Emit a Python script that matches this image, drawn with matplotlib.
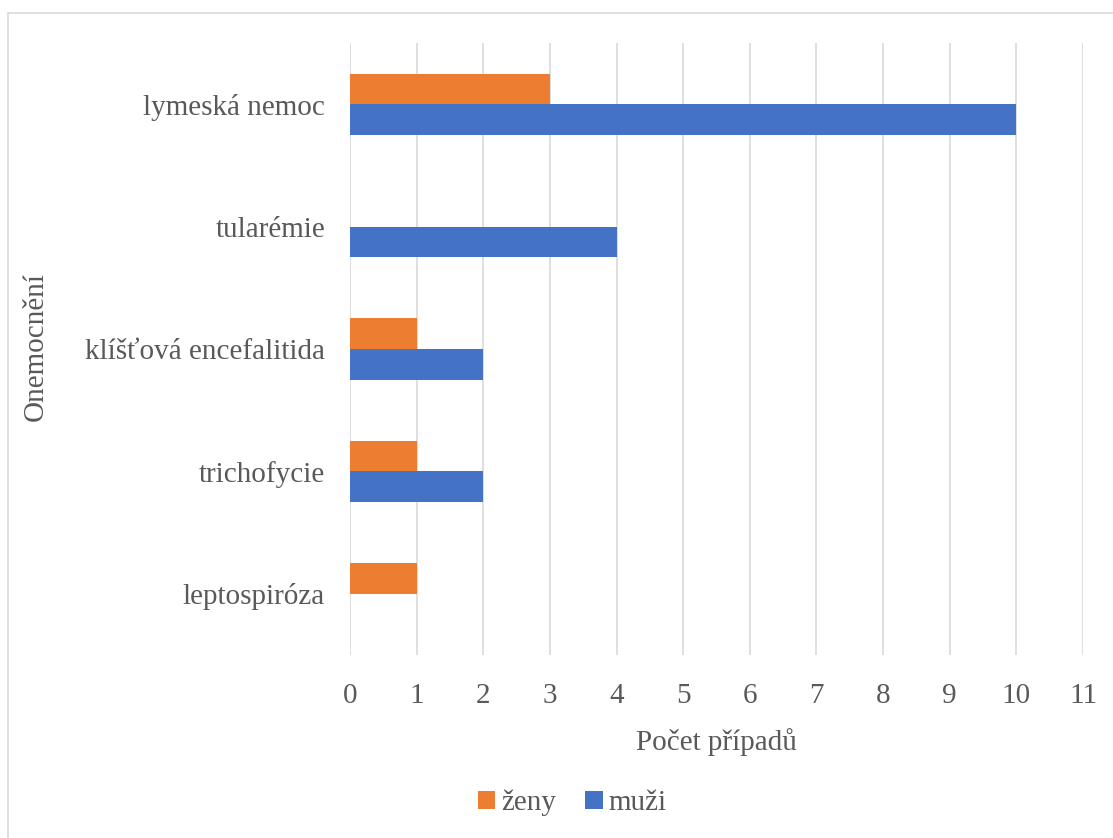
import numpy as np
import matplotlib.pyplot as plt
from matplotlib.patches import Rectangle

categories = ["lymeská nemoc", "tularémie", "klíšťová encefalitida", "trichofycie", "leptospiróza"]
zeny = [3, 0, 1, 1, 1]
muzi = [10, 4, 2, 2, 0]
xticks = list(range(0, 12))

W, H = 1113, 838
plt.rcParams['font.family'] = ['Liberation Serif', 'DejaVu Serif']
fig = plt.figure(figsize=(W / 100, H / 100), dpi=100)

# chart border (only left and top show, the rest is cut off)
fig.patches.append(Rectangle((8 / W, -0.2), 1.2, 1.2 - 13 / H, transform=fig.transFigure,
                             fill=False, edgecolor='#d9d9d9', linewidth=1.2))

ax = fig.add_axes([350 / W, (H - 655) / H, (1083 - 350) / W, (655 - 43) / H])

y = np.arange(len(categories))[::-1].astype(float)
h = 0.25
ax.barh(y + h / 2, zeny, height=h, color='#ed7d31', label='ženy', zorder=3)
ax.barh(y - h / 2, muzi, height=h, color='#4472c4', label='muži', zorder=3)

ax.set_xlim(0, 11)
ax.set_ylim(-0.5, len(categories) - 0.5)
ax.set_xticks(xticks)
ax.set_yticks(y)
ax.set_yticklabels(categories)
ax.grid(axis='x', color='#d9d9d9', linewidth=1.2, zorder=0)
for s in ax.spines.values():
    s.set_visible(False)
ax.tick_params(axis='both', length=0, labelsize=21, colors='#595959')
ax.tick_params(axis='x', pad=20)
ax.tick_params(axis='y', pad=18)

ax.set_xlabel('Počet případů', fontsize=21, color='#595959', labelpad=14)
fig.text(36 / W, 1 - 346 / H, 'Onemocnění', rotation=90, fontsize=21,
         color='#595959', ha='center', va='center')

fig.legend(loc='center', bbox_to_anchor=(572 / W, 1 - 803 / H), ncol=2, frameon=False,
           fontsize=21, labelcolor='#595959', handlelength=0.6, handleheight=0.6,
           handletextpad=0.2, columnspacing=1.0)

fig.savefig('out.png', dpi=100)
